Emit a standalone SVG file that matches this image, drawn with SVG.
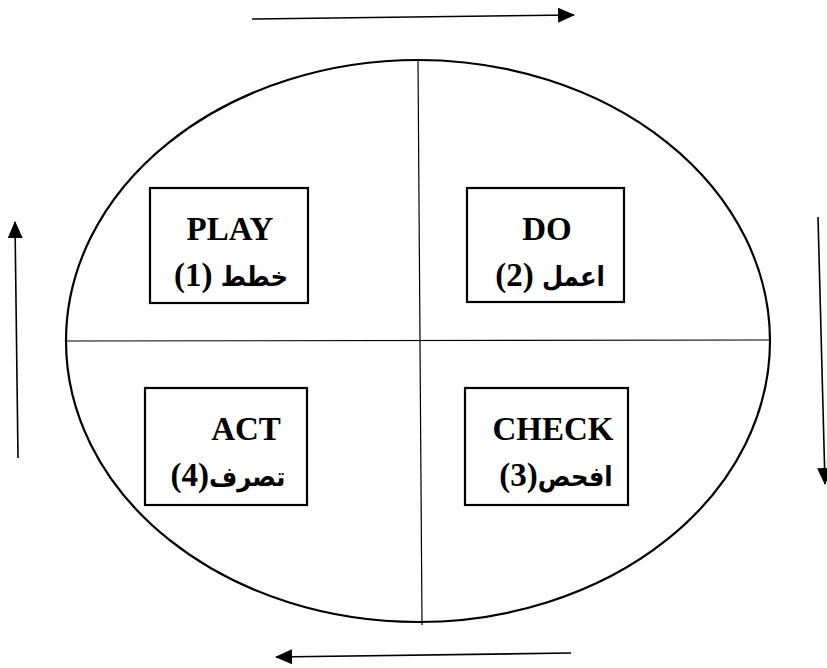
<svg xmlns="http://www.w3.org/2000/svg" width="827" height="668" viewBox="0 0 827 668">
<style>
.box{fill:#fff;stroke:#000;stroke-width:2.2}
.lat{font-family:"Liberation Serif","Times New Roman",serif;font-weight:bold;font-size:33px;fill:#000}
.ar{font-family:"DejaVu Sans Condensed","DejaVu Sans",sans-serif;font-weight:bold;font-size:27px}
.conn{stroke:#000;stroke-width:1.6;fill:none}
.div{stroke:#000;stroke-width:1.2;fill:none}
</style>
<defs>
<marker id="ah" viewBox="0 0 17 15" refX="16" refY="7.5" markerWidth="17" markerHeight="15" markerUnits="userSpaceOnUse" orient="auto">
<path d="M0,0 L17,7.5 L0,15 Z" fill="#000"/>
</marker>
</defs>
<rect width="827" height="668" fill="#fff"/>
<g id="cycle">
<ellipse cx="418" cy="341" rx="352" ry="281" fill="none" stroke="#000" stroke-width="2.2"/>
<line class="div" x1="418" y1="60" x2="422" y2="625"/>
<line class="div" x1="67" y1="341" x2="769" y2="340"/>
</g>
<g id="plan">
<rect class="box" x="150" y="188" width="158" height="115"/>
<text class="lat" x="230" y="240" text-anchor="middle">PLAY</text>
<text class="lat" x="231" y="286" text-anchor="middle">(1) <tspan class="ar">خطط</tspan></text>
</g>
<g id="do">
<rect class="box" x="467" y="188" width="157" height="114"/>
<text class="lat" x="547" y="240" text-anchor="middle">DO</text>
<text class="lat" x="550" y="286" text-anchor="middle">(2) <tspan class="ar">اعمل</tspan></text>
</g>
<g id="act">
<rect class="box" x="145" y="388" width="162" height="117"/>
<text class="lat" x="246" y="440" text-anchor="middle">ACT</text>
<text class="lat" x="228" y="486" text-anchor="middle">(4)<tspan class="ar">تصرف</tspan></text>
</g>
<g id="check">
<rect class="box" x="465" y="388" width="163" height="117"/>
<text class="lat" x="553" y="440" text-anchor="middle">CHECK</text>
<text class="lat" x="556" y="486" text-anchor="middle">(3)<tspan class="ar">افحص</tspan></text>
</g>
<g id="connectors">
<line class="conn" x1="252" y1="19" x2="574" y2="15" marker-end="url(#ah)"/>
<line class="conn" x1="818" y1="217" x2="825" y2="484" marker-end="url(#ah)"/>
<line class="conn" x1="571" y1="653" x2="276" y2="657" marker-end="url(#ah)"/>
<line class="conn" x1="18" y1="458" x2="15" y2="222" marker-end="url(#ah)"/>
</g>
</svg>
